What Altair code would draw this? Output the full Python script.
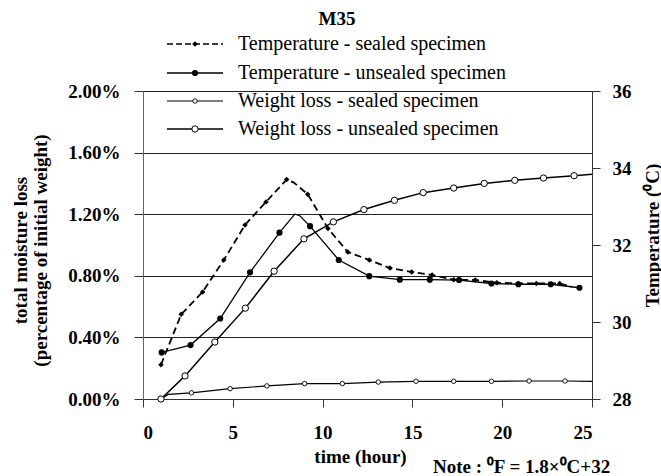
import altair as alt
import pandas as pd

FONT = "Liberation Serif"
W, H = 449, 308

# ---- weight loss (% of initial weight) ----
ws_hour = [1.0, 1.4, 2.7, 4.85, 6.9, 9.0, 11.1, 13.1, 15.2, 17.3, 19.4, 21.5, 23.5, 25.0]
ws_loss = [0.0, 0.03, 0.04, 0.067, 0.085, 0.10, 0.10, 0.11, 0.115, 0.115, 0.115, 0.117, 0.117, 0.115]
ws_mark = [1, 0, 1, 1, 1, 1, 1, 1, 1, 1, 1, 1, 1, 0]

wu_hour = [1.0, 2.34, 4.0, 5.7, 7.3, 8.96, 10.6, 12.3, 14.0, 15.6, 17.3, 19.0, 20.7, 22.3, 24.0, 25.0]
wu_loss = [0.0, 0.15, 0.37, 0.59, 0.83, 1.04, 1.15, 1.23, 1.29, 1.34, 1.37, 1.40, 1.42, 1.435, 1.45, 1.46]
wu_mark = [1, 1, 1, 1, 1, 1, 1, 1, 1, 1, 1, 1, 1, 1, 1, 0]

# ---- specimen temperature (deg C) ----
ts_hour = [1.0, 2.13, 3.32, 4.5, 5.68, 6.85, 8.0, 8.4, 9.17, 10.3, 11.4, 12.6, 13.75,
           14.96, 16.1, 17.3, 18.5, 19.7, 20.9, 21.9, 23.2, 23.9]
ts_temp = [28.89, 30.20, 30.78, 31.61, 32.52, 33.12, 33.70, 33.62, 33.32, 32.43, 31.82, 31.61, 31.40,
           31.30, 31.22, 31.10, 31.09, 31.02, 31.00, 31.00, 31.00, 30.91]
ts_mark = [1, 1, 1, 1, 1, 1, 1, 0, 1, 1, 1, 1, 1, 1, 1, 1, 1, 1, 1, 1, 1, 0]

tu_hour = [1.04, 2.65, 4.3, 5.96, 7.6, 8.45, 8.7, 9.3, 10.9, 12.6, 14.3, 15.97, 17.6,
           19.4, 20.9, 22.7, 24.3]
tu_temp = [29.21, 29.40, 30.09, 31.29, 32.32, 32.80, 32.77, 32.49, 31.61, 31.19, 31.10, 31.10, 31.09,
           31.00, 30.98, 30.98, 30.89]
tu_mark = [1, 1, 1, 1, 1, 0, 0, 1, 1, 1, 1, 1, 1, 1, 1, 1, 1]

legend_labels = [
    "Temperature - sealed specimen",
    "Temperature - unsealed specimen",
    "Weight loss - sealed specimen",
    "Weight loss - unsealed specimen",
]

x_ticks = [0, 5, 10, 15, 20, 25]
loss_ticks = [0.0, 0.4, 0.8, 1.2, 1.6, 2.0]
temp_ticks = [28, 30, 32, 34, 36]


def frame(hours, values, marks, col):
    return pd.DataFrame({"hour": hours, col: values, "mark": marks})


ws = frame(ws_hour, ws_loss, ws_mark, "loss")
wu = frame(wu_hour, wu_loss, wu_mark, "loss")
ts = frame(ts_hour, ts_temp, ts_mark, "temp")
tu = frame(tu_hour, tu_temp, tu_mark, "temp")

label_style = dict(labelFont=FONT, labelFontSize=19, labelFontWeight="bold", labelColor="black")
title_style = dict(titleFont=FONT, titleFontSize=19, titleFontWeight="bold", titleColor="black")

x_axis = alt.Axis(values=x_ticks, grid=False, tickSize=8, tickColor="#333", domainColor="#333",
                  labelPadding=16, title="time (hour)", titleX=217, titleY=63,
                  titleAlign="center", titleBaseline="alphabetic", **label_style, **title_style)
x_enc = alt.X("hour:Q", scale=alt.Scale(domain=[0, 25], nice=False), axis=x_axis)

left_axis = alt.Axis(values=loss_ticks, orient="left", grid=True, gridColor="#222", gridWidth=1,
                     tickSize=9, tickColor="#333", domainColor="#666",
                     labelPadding=14, labelExpr="format(datum.value, '.2f') + '%'",
                     title=["total moisture loss", "(percentage of initial weight)"],
                     titleAngle=270, titleX=-117, titleY=159, titleAlign="center",
                     titleBaseline="alphabetic", titleLineHeight=20,
                     **label_style, **title_style)
y_loss = alt.Y("loss:Q", scale=alt.Scale(domain=[0, 2], nice=False), axis=left_axis)

right_axis = alt.Axis(values=temp_ticks, orient="right", grid=False, tickSize=8, tickColor="#333",
                      domainColor="#333", labelPadding=12, title="Temperature (\u2070C)",
                      titleAngle=270, titleX=66, titleY=144, titleAlign="center",
                      titleBaseline="alphabetic", **label_style, **title_style)
y_temp = alt.Y("temp:Q", scale=alt.Scale(domain=[28, 36], nice=False), axis=right_axis)

marked = "datum.mark == 1"

# marker styles shared by the curves and the legend
m_temp_sealed = dict(shape="diamond", size=30, filled=True, color="black", opacity=1)
m_temp_unsealed = dict(shape="circle", size=38, filled=True, color="black", opacity=1)
m_loss_sealed = dict(shape="circle", size=20, filled=True, fill="white", stroke="black",
                     strokeWidth=0.9, opacity=1)
m_loss_unsealed = dict(shape="circle", size=40, filled=True, fill="white", stroke="black",
                       strokeWidth=1, opacity=1)

# weight-loss curves on the left axis
weight = alt.layer(
    alt.Chart(ws).mark_line(color="black", strokeWidth=1.2).encode(x=x_enc, y=y_loss),
    alt.Chart(wu).mark_line(color="black", strokeWidth=1.5).encode(x=x_enc, y=y_loss),
    alt.Chart(ws).transform_filter(marked).mark_point(**m_loss_sealed).encode(x=x_enc, y=y_loss),
    alt.Chart(wu).transform_filter(marked).mark_point(**m_loss_unsealed).encode(x=x_enc, y=y_loss),
)

# temperature curves on the right axis
temperature = alt.layer(
    alt.Chart(ts).mark_line(color="black", strokeWidth=1.8, strokeDash=[7, 4]).encode(x=x_enc, y=y_temp),
    alt.Chart(tu).mark_line(color="black", strokeWidth=1.3).encode(x=x_enc, y=y_temp),
    alt.Chart(ts).transform_filter(marked).mark_point(**m_temp_sealed).encode(x=x_enc, y=y_temp),
    alt.Chart(tu).transform_filter(marked).mark_point(**m_temp_unsealed).encode(x=x_enc, y=y_temp),
)

# hand-built legend: line sample, marker and label per row
legend_rows = [-47, -18, 10, 38]
legend_line = [
    dict(strokeDash=[6, 3], strokeWidth=1.6),
    dict(strokeWidth=1.4),
    dict(strokeWidth=1.2),
    dict(strokeWidth=1.5),
]
legend_marker = [m_temp_sealed, m_temp_unsealed, m_loss_sealed, m_loss_unsealed]
legend_layers = []
for label, ry, ls, ms in zip(legend_labels, legend_rows, legend_line, legend_marker):
    row = alt.Data(values=[{"label": label}])
    legend_layers.append(
        alt.Chart(row).mark_rule(color="black", **ls).encode(
            x=alt.value(24), x2=alt.value(80), y=alt.value(ry)))
    legend_layers.append(
        alt.Chart(row).mark_point(**ms).encode(x=alt.value(52), y=alt.value(ry)))
    legend_layers.append(
        alt.Chart(row).mark_text(align="left", baseline="middle", font=FONT, fontSize=20,
                                 color="black").encode(
            x=alt.value(95), y=alt.value(ry), text="label:N"))

title_text = alt.Chart(alt.Data(values=[{"t": "M35"}])).mark_text(
    font=FONT, fontSize=19, fontWeight="bold", color="black", align="center", baseline="middle"
).encode(x=alt.value(194), y=alt.value(-72), text="t:N")

note_text = alt.Chart(alt.Data(values=[{"t": "Note : \u2070F = 1.8\u00d7\u2070C+32"}])).mark_text(
    font=FONT, fontSize=19, fontWeight="bold", color="black", align="left", baseline="alphabetic"
).encode(x=alt.value(290), y=alt.value(382), text="t:N")

chart = (
    alt.layer(weight, temperature, *legend_layers, title_text, note_text)
    .resolve_scale(y="independent")
    .properties(
        width=W, height=H,
        autosize=alt.AutoSizeParams(type="none"),
        padding={"left": 143, "top": 91, "right": 69, "bottom": 77},
        background="white",
    )
    .configure_view(stroke="transparent")
)

chart.save("out.html", embed_options={"renderer": "svg", "actions": False})
